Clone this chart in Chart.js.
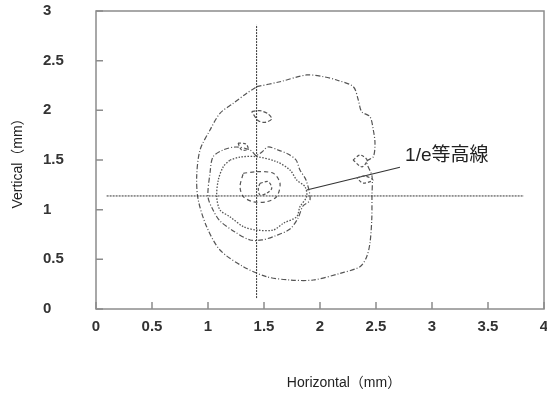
<!DOCTYPE html>
<html lang="ja">
<head>
<meta charset="UTF-8">
<title>1/e contour</title>
<script src="https://cdn.jsdelivr.net/npm/chart.js"></script>
<style>
  html, body { margin: 0; padding: 0; background: #fff; }
  #wrap { position: relative; width: 547px; height: 394px; }
</style>
</head>
<body>
<div id="wrap"><canvas id="contourChart"></canvas></div>
<script>
// axis ticks
const xTicks = [0, 0.5, 1, 1.5, 2, 2.5, 3, 3.5, 4];
const yTicks = [0, 0.5, 1, 1.5, 2, 2.5, 3];

// crosshair through the beam centre
const hLineX = [0.095, 3.82];
const hLineY = [1.138, 1.138];
const vLineX = [1.434, 1.434];
const vLineY = [0.11, 2.86];

// outer contour
const outerX = [1.435, 1.643, 1.881, 2.029, 2.149, 2.297, 2.342, 2.372, 2.446, 2.476, 2.491, 2.476, 2.417, 2.464, 2.464, 2.462, 2.446, 2.417, 2.357, 2.179, 1.940, 1.732, 1.524, 1.315, 1.107, 0.988, 0.913, 0.899, 0.929, 1.018, 1.107, 1.226, 1.346, 1.435];
const outerY = [2.238, 2.288, 2.356, 2.339, 2.305, 2.238, 2.104, 1.986, 1.936, 1.802, 1.668, 1.533, 1.483, 1.339, 1.138, 0.896, 0.664, 0.527, 0.426, 0.359, 0.292, 0.292, 0.325, 0.426, 0.594, 0.829, 1.097, 1.332, 1.601, 1.802, 1.970, 2.071, 2.172, 2.238];

// middle contour
const midX = [1.429, 1.375, 1.250, 1.134, 1.045, 1.018, 1.000, 1.045, 1.107, 1.241, 1.375, 1.482, 1.598, 1.732, 1.804, 1.848, 1.911, 1.875, 1.821, 1.786, 1.714, 1.625, 1.536, 1.482, 1.429];
const midY = [1.540, 1.601, 1.631, 1.601, 1.531, 1.369, 1.128, 0.997, 0.886, 0.775, 0.695, 0.695, 0.735, 0.805, 0.916, 1.037, 1.097, 1.299, 1.399, 1.500, 1.560, 1.601, 1.631, 1.581, 1.540];

// 1/e contour
const eX = [1.196, 1.286, 1.435, 1.613, 1.732, 1.792, 1.866, 1.881, 1.821, 1.792, 1.673, 1.583, 1.435, 1.315, 1.196, 1.107, 1.078, 1.092, 1.137, 1.196];
const eY = [1.500, 1.530, 1.533, 1.483, 1.399, 1.299, 1.231, 1.131, 1.030, 0.929, 0.863, 0.795, 0.795, 0.829, 0.929, 0.997, 1.131, 1.299, 1.433, 1.500];

// inner contours
const innerX = [1.315, 1.435, 1.583, 1.643, 1.613, 1.524, 1.404, 1.315, 1.286, 1.315];
const innerY = [1.366, 1.382, 1.366, 1.265, 1.131, 1.080, 1.080, 1.131, 1.231, 1.366];
const coreX = [1.464, 1.538, 1.569, 1.524, 1.464, 1.449, 1.464];
const coreY = [1.265, 1.282, 1.215, 1.165, 1.148, 1.215, 1.265];

// small islands
const islandAX = [1.390, 1.464, 1.538, 1.569, 1.509, 1.449, 1.390];
const islandAY = [1.987, 1.997, 1.963, 1.913, 1.879, 1.896, 1.987];
const islandBX = [1.268, 1.339, 1.357, 1.300, 1.268];
const islandBY = [1.671, 1.661, 1.611, 1.601, 1.671];
const islandCX = [2.295, 2.357, 2.420, 2.375, 2.295];
const islandCY = [1.500, 1.550, 1.500, 1.430, 1.500];
const islandDX = [2.330, 2.402, 2.473, 2.384, 2.330];
const islandDY = [1.319, 1.339, 1.299, 1.268, 1.319];

// leader line to the label
const leaderX = [1.881, 2.714];
const leaderY = [1.198, 1.427];
const labelText = '1/e等高線';
const labelPos = [2.76, 1.54];

function pts(xs, ys) {
    return xs.map((x, i) => ({ x: x, y: ys[i] }));
}

function line(xs, ys, dash, color, width, tension) {
    return {
        data: pts(xs, ys),
        showLine: true,
        borderColor: color,
        borderWidth: width,
        borderDash: dash,
        pointRadius: 0,
        fill: false,
        tension: tension
    };
}

const dashDot = [5, 2, 1, 2];
const grey = '#555';

// frame, inward ticks, axis titles and label
const decor = {
    id: 'decor',
    afterDraw(chart) {
        const ctx = chart.ctx;
        const a = chart.chartArea;
        const sx = chart.scales.x, sy = chart.scales.y;
        ctx.save();
        ctx.strokeStyle = '#8c8c8c';
        ctx.lineWidth = 1.5;
        ctx.strokeRect(a.left, a.top, a.right - a.left, a.bottom - a.top);
        ctx.beginPath();
        xTicks.forEach(v => {
            const p = sx.getPixelForValue(v);
            ctx.moveTo(p, a.bottom);
            ctx.lineTo(p, a.bottom - 7);
        });
        yTicks.forEach(v => {
            const p = sy.getPixelForValue(v);
            ctx.moveTo(a.left, p);
            ctx.lineTo(a.left + 7, p);
        });
        ctx.stroke();

        ctx.fillStyle = '#222';
        ctx.font = '14px "Liberation Sans", Arial, "Noto Sans CJK JP", sans-serif';
        ctx.textAlign = 'center';
        ctx.textBaseline = 'middle';
        ctx.fillText('Horizontal（mm）', 344, 383);
        ctx.save();
        ctx.translate(18, (a.top + a.bottom) / 2);
        ctx.rotate(-Math.PI / 2);
        ctx.fillText('Vertical（mm）', 0, 0);
        ctx.restore();

        ctx.font = '19px "Liberation Sans", "Noto Sans CJK JP", sans-serif';
        ctx.textAlign = 'left';
        ctx.fillText(labelText, sx.getPixelForValue(labelPos[0]), sy.getPixelForValue(labelPos[1]));
        ctx.restore();
    }
};

const tickFont = { family: '"Liberation Sans", Arial, sans-serif', size: 15, weight: 'bold' };
const plain = v => String(v);

new Chart(document.getElementById('contourChart'), {
    type: 'scatter',
    data: {
        datasets: [
            line(hLineX, hLineY, [2, 1], '#333', 1, 0),
            line(vLineX, vLineY, [2, 1], '#333', 1, 0),
            line(outerX, outerY, dashDot, grey, 1.2, 0.3),
            line(midX, midY, dashDot, grey, 1.2, 0.3),
            line(eX, eY, [1.5, 1.5], grey, 1.3, 0.3),
            line(innerX, innerY, [4, 3], grey, 1.2, 0.3),
            line(coreX, coreY, [3, 2], grey, 1.2, 0.3),
            line(islandAX, islandAY, [4, 2], grey, 1.2, 0.3),
            line(islandBX, islandBY, [3, 2], grey, 1.2, 0.3),
            line(islandCX, islandCY, [3, 2], grey, 1.2, 0.3),
            line(islandDX, islandDY, [3, 2], grey, 1.2, 0.3),
            line(leaderX, leaderY, [], '#333', 1.2, 0)
        ]
    },
    options: {
        responsive: true,
        maintainAspectRatio: false,
        animation: false,
        layout: { padding: { left: 43, right: 3, top: 11, bottom: 0 } },
        plugins: {
            legend: { display: false },
            tooltip: { enabled: false }
        },
        scales: {
            x: {
                type: 'linear',
                min: 0,
                max: 4,
                afterFit: s => { s.height = 85; s.paddingLeft = 0; s.paddingRight = 0; },
                afterBuildTicks: s => { s.ticks = xTicks.map(v => ({ value: v })); },
                grid: { display: false },
                border: { display: false },
                ticks: { font: tickFont, color: '#333', padding: 1, maxRotation: 0, autoSkip: false, callback: plain }
            },
            y: {
                type: 'linear',
                min: 0,
                max: 3,
                afterFit: s => { s.width = 53; s.paddingTop = 0; s.paddingBottom = 0; },
                afterBuildTicks: s => { s.ticks = yTicks.map(v => ({ value: v })); },
                grid: { display: false },
                border: { display: false },
                ticks: { font: tickFont, color: '#333', padding: 0, crossAlign: 'far', autoSkip: false, callback: plain }
            }
        }
    },
    plugins: [decor]
});
</script>
</body>
</html>
